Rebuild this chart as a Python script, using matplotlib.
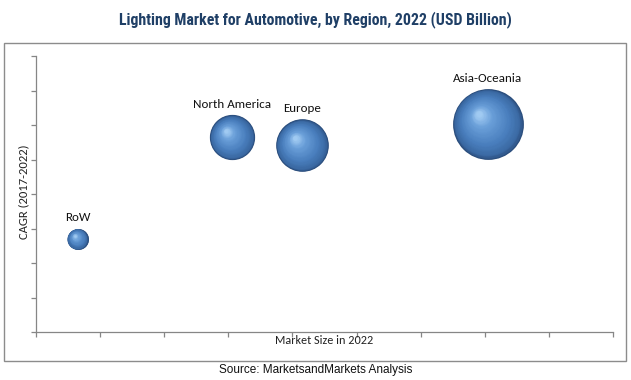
import numpy as np
import matplotlib
matplotlib.use("Agg")
import matplotlib.pyplot as plt
import matplotlib.transforms as mtransforms
from matplotlib.colors import LinearSegmentedColormap
from matplotlib.patches import Rectangle
from matplotlib import font_manager

# ---- data ----
regions = ["RoW", "North America", "Europe", "Asia-Oceania"]
market_pos = [0.65, 3.06, 4.15, 7.05]      # x position (market size axis)
cagr = [2.70, 5.64, 5.41, 6.03]            # y position (CAGR axis)
bubble_size = [1.1, 5.1, 6.9, 12.5]        # bubble area value
title = "Lighting Market for Automotive, by Region, 2022 (USD Billion)"
xlabel = "Market Size in 2022"
ylabel = "CAGR (2017-2022)"
source = "Source: MarketsandMarkets Analysis"

available = {f.name for f in font_manager.fontManager.ttflist}


def pick(prefs):
    for p in prefs:
        if p in available:
            return [p, "DejaVu Sans"]
    return ["DejaVu Sans"]


title_font = pick(["Roboto Condensed", "Liberation Sans Narrow", "Open Sans Condensed",
                   "Noto Sans Condensed", "Roboto", "Noto Sans"])
label_font = pick(["Carlito", "Lato", "Open Sans", "Noto Sans"])
source_font = pick(["Liberation Sans", "Arial"])

DPI = 100
fig = plt.figure(figsize=(6.31, 3.80), dpi=DPI)
fig.patch.set_facecolor("white")

# outer frame
fig.add_artist(Rectangle((4 / 631, 1 - 361 / 380), 622 / 631, 318 / 380,
                         transform=fig.transFigure, fill=False,
                         edgecolor="#8c8c8c", linewidth=1.0))

ax = fig.add_axes([35.9 / 631, 1 - 332 / 380, (613 - 35.9) / 631, (332 - 56) / 380])
ax.set_xlim(0, 9)
ax.set_ylim(0, 8)
ax.set_xticks(np.arange(0, 10))
ax.set_yticks(np.arange(0, 9))
ax.set_xticklabels([])
ax.set_yticklabels([])
for s in ["top", "right"]:
    ax.spines[s].set_visible(False)
for s in ["left", "bottom"]:
    ax.spines[s].set_color("#868686")
    ax.spines[s].set_linewidth(0.9)
ax.tick_params(axis="both", direction="out", length=3.5, width=0.9, color="#868686")
ax.set_facecolor("none")

cmap = LinearSegmentedColormap.from_list(
    "sph", [(0.0, "#2a4c7a"), (0.08, "#3a68a2"), (0.35, "#4a7fbe"),
            (0.75, "#6a9fd9"), (1.0, "#a0caf2")])

R_MAX_PX = 35.4
max_size = max(bubble_size)
N = 45
for name, x, y, b in zip(regions, market_pos, cagr, bubble_size):
    r_px = R_MAX_PX * np.sqrt(b / max_size)
    r_pt = r_px * 72 / DPI
    hx, hy = -0.28 * r_pt, 0.30 * r_pt
    for k in range(N):
        t = k / (N - 1)
        f = 1 - 0.92 * t
        off = mtransforms.ScaledTranslation((1 - f) * hx / 72, (1 - f) * hy / 72,
                                            fig.dpi_scale_trans)
        ax.scatter([x], [y], s=(2 * r_pt * f) ** 2, color=cmap(t),
                   linewidths=0, transform=ax.transData + off, zorder=3 + k * 0.001,
                   clip_on=False)
    ax.annotate(name, (x, y), xytext=(0, r_pt + 10.5 * 72 / DPI),
                textcoords="offset points", ha="center", va="center",
                fontsize=9.4, family=label_font, color="#111111")

fig.text(0.5, 1 - 20 / 380, title, ha="center", va="center",
         fontsize=11.4, fontweight="bold", color="#1f3f66", family=title_font)
fig.text(324 / 631, 1 - 341 / 380, xlabel, ha="center", va="center",
         fontsize=8.7, family=label_font, color="#222222")
fig.text(24 / 631, 1 - 192 / 380, ylabel, ha="center", va="center",
         rotation=90, fontsize=9.1, family=label_font, color="#222222")
fig.text(315.5 / 631, 1 - 370.5 / 380, source, ha="center", va="center",
         fontsize=8.5, family=source_font, color="#111111")

fig.savefig("out.png", dpi=DPI, facecolor="white")
